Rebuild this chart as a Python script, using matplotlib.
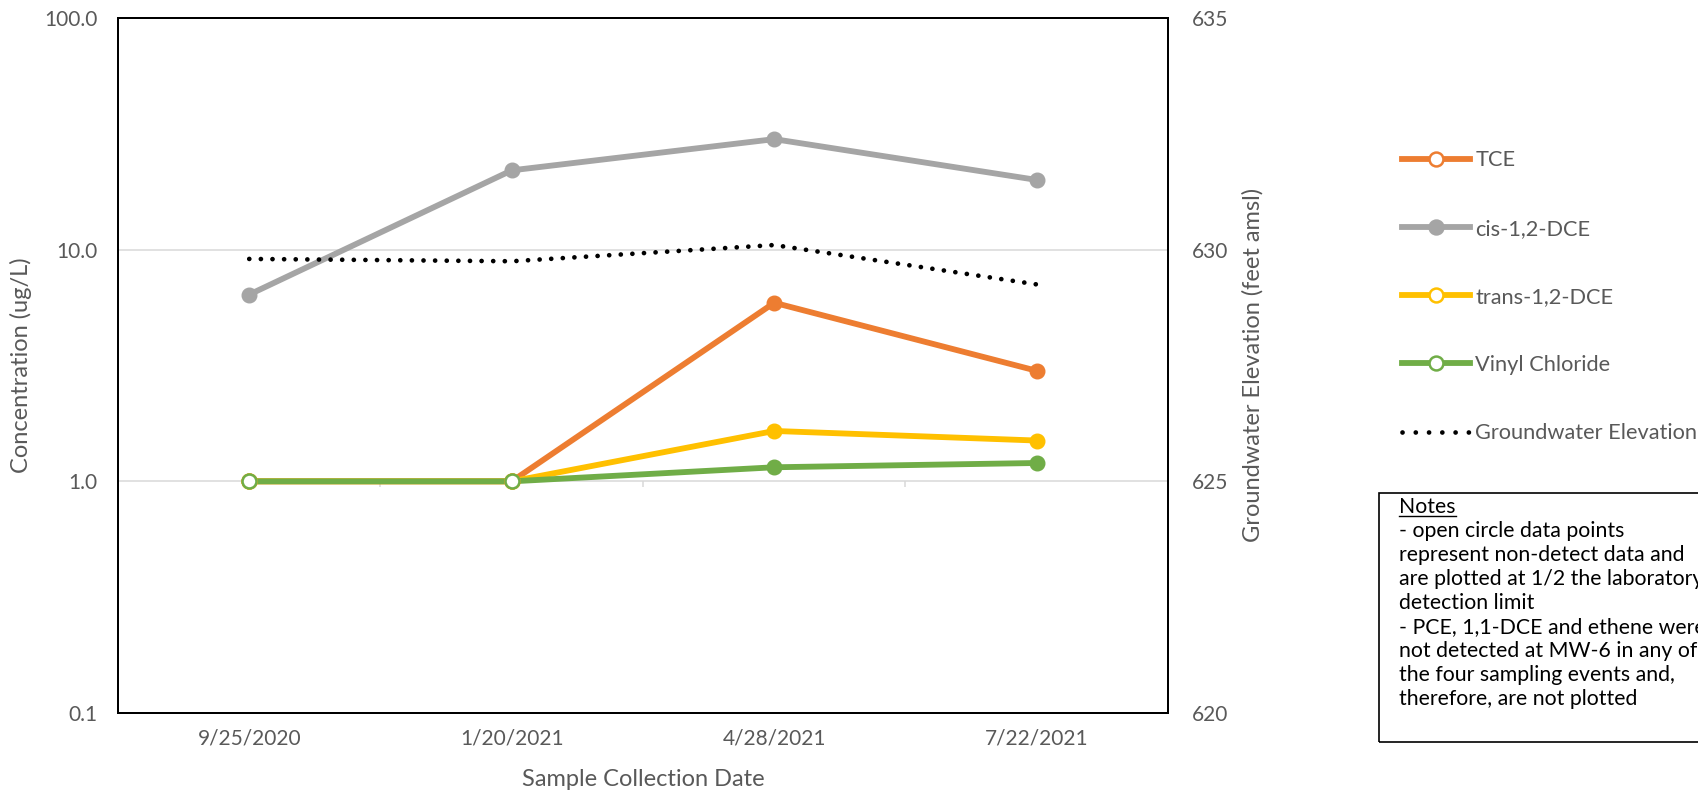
import matplotlib
matplotlib.use("Agg")
import matplotlib.pyplot as plt
from matplotlib.lines import Line2D
from matplotlib.patches import Rectangle
import numpy as np

# ---- data ----
dates = ["9/25/2020", "1/20/2021", "4/28/2021", "7/22/2021"]

tce = [1.0, 1.0, 5.9, 3.0]
tce_detect = [False, False, True, True]
cis_dce = [6.4, 22.0, 30.0, 20.0]
cis_detect = [True, True, True, True]
trans_dce = [1.0, 1.0, 1.65, 1.5]
trans_detect = [False, False, True, True]
vinyl_chloride = [1.0, 1.0, 1.15, 1.2]
vc_detect = [False, False, True, True]

gw_elevation = [629.8, 629.75, 630.1, 629.25]

conc_ticks = [0.1, 1, 10, 100]
conc_labels = ["0.1", "1.0", "10.0", "100.0"]
elev_ticks = [620, 625, 630, 635]

series_names = ["TCE", "cis-1,2-DCE", "trans-1,2-DCE", "Vinyl Chloride"]
series_values = [tce, cis_dce, trans_dce, vinyl_chloride]
series_detect = [tce_detect, cis_detect, trans_detect, vc_detect]
series_colors = ["#ED7D31", "#A5A5A5", "#FFC000", "#70AD47"]

notes_lines = [
    "- open circle data points",
    "represent non-detect data and",
    "are plotted at 1/2 the laboratory",
    "detection limit",
    "- PCE, 1,1-DCE and ethene were",
    "not detected at MW-6 in any of",
    "the four sampling events and,",
    "therefore, are not plotted",
]

# ---- style ----
FONT = "Lato"
TXT = "#595959"
GRID = "#D9D9D9"
LW = 4.2
MS = 10.5
TICK_FS = 15
TITLE_FS = 17
TEXT_FS = 15.7
NOTE_FS = 15.3
plt.rcParams["font.family"] = [FONT, "DejaVu Sans"]

W, H = 1698, 794
fig = plt.figure(figsize=(W / 100, H / 100), dpi=100)

ax_l, ax_r, ax_t, ax_b = 118, 1168, 18, 713
ax = fig.add_axes([ax_l / W, 1 - ax_b / H, (ax_r - ax_l) / W, (ax_b - ax_t) / H])

x = np.arange(len(dates))

for name, vals, det, col in zip(series_names, series_values, series_detect, series_colors):
    vals = np.asarray(vals)
    det = np.asarray(det)
    ax.plot(x, vals, color=col, lw=LW, solid_capstyle="round", zorder=3)
    ax.plot(x[~det], vals[~det], "o", ms=MS - 0.5, mfc="white", mec=col, mew=1.8, zorder=4)
    ax.plot(x[det], vals[det], "o", ms=MS, color=col, zorder=4)

ax.set_yscale("log")
ax.set_ylim(0.1, 100)
ax.set_xlim(-0.5, len(dates) - 0.5)
ax.set_yticks(conc_ticks)
ax.set_yticklabels(conc_labels)
ax.yaxis.set_minor_locator(matplotlib.ticker.NullLocator())
ax.set_xticks(x)
ax.set_xticklabels(dates)
ax.tick_params(axis="y", length=0, pad=15, labelsize=TICK_FS, labelcolor=TXT)
ax.tick_params(axis="x", length=0, pad=11, labelsize=TICK_FS, labelcolor=TXT)
ax.grid(axis="y", color=GRID, lw=1.1, zorder=0)
for sp in ax.spines.values():
    sp.set_color("black")
    sp.set_linewidth(1.4)

# category axis crosses at 1.0: small tick marks between categories
cross = ax.secondary_xaxis(1 / 3)
cross.set_xticks(np.arange(len(dates) - 1) + 0.5)
cross.tick_params(axis="x", direction="out", length=4.5, width=1.1, color=GRID, labelbottom=False)
cross.spines["bottom"].set_visible(False)
cross.set_xticklabels([])

# groundwater elevation on secondary axis
ax2 = ax.twinx()
ax2.plot(x, gw_elevation, color="black", lw=3.4, linestyle=(0, (0.01, 2.45)),
         dash_capstyle="round", zorder=5)
ax2.set_ylim(620, 635)
ax2.set_yticks(elev_ticks)
ax2.tick_params(axis="y", length=0, pad=17, labelsize=TICK_FS, labelcolor=TXT)
for sp in ax2.spines.values():
    sp.set_color("black")
    sp.set_linewidth(1.4)

# axis titles
fig.text((ax_l + ax_r) / 2 / W, 1 - 780 / H, "Sample Collection Date", ha="center",
         va="center", fontsize=TITLE_FS, color=TXT)
fig.text(21 / W, 1 - 365 / H, "Concentration (ug/L)", ha="center", va="center",
         rotation=90, fontsize=TITLE_FS, color=TXT)
fig.text(1253 / W, 1 - 365 / H, "Groundwater Elevation (feet amsl)", ha="center",
         va="center", rotation=90, fontsize=TITLE_FS, color=TXT)

# legend
handles = []
for name, det, col in zip(series_names, series_detect, series_colors):
    face = col if all(det) else "white"
    handles.append(Line2D([], [], color=col, lw=LW, marker="o", ms=MS - 0.5,
                          mfc=face, mec=col, mew=1.8))
handles.append(Line2D([], [], color="black", lw=3.4, linestyle=(0, (0.01, 2.8)),
                      dash_capstyle="round"))
labels = series_names + ["Groundwater Elevation"]
fig.legend(handles, labels, loc="upper left", bbox_to_anchor=(1402 / W, 1 - 150.5 / H),
           frameon=False, fontsize=TEXT_FS, labelcolor=TXT, handlelength=3.1,
           handletextpad=0.26, labelspacing=2.21, borderpad=0, borderaxespad=0,
           numpoints=1)

# notes box
box_l, box_t, box_b = 1379, 493, 742
fig.patches.append(Rectangle((box_l / W, 1 - box_b / H), (W + 20 - box_l) / W,
                             (box_b - box_t) / H, transform=fig.transFigure,
                             fill=False, ec="black", lw=1.2))
line_h = 24.0
tx = 1399
title = fig.text(tx / W, 1 - 507 / H, "Notes", ha="left", va="center", fontsize=NOTE_FS,
                 color="black")
for i, ln in enumerate(notes_lines):
    fig.text(tx / W, 1 - (507 + line_h * (i + 1)) / H, ln, ha="left", va="center",
             fontsize=NOTE_FS, color="black")
renderer = fig.canvas.get_renderer()
bb = title.get_window_extent(renderer=renderer)
fig.add_artist(Line2D([bb.x0 / W, bb.x1 / W], [(bb.y0 + 1) / H, (bb.y0 + 1) / H],
                      transform=fig.transFigure, color="black", lw=1.0))

fig.savefig("out.png", dpi=100)
